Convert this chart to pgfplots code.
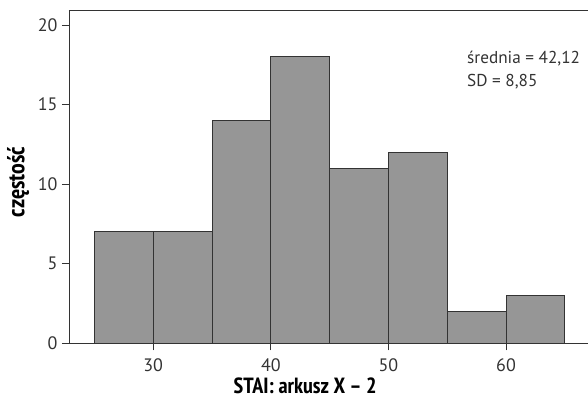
\documentclass[border=0pt]{standalone}
\usepackage{pgfplots}
\pgfplotsset{compat=1.18}
\usepackage{fontspec}
\setmainfont{PT Sans}
\newfontfamily\narrowbold{PT Sans Narrow}[BoldFont={* Bold}]
\definecolor{barfill}{RGB}{150,150,150}
\definecolor{dk}{RGB}{51,51,51}
\begin{document}
\begin{tikzpicture}
\useasboundingbox (-69pt,-56.7pt) rectangle (519pt,343.3pt);
\begin{axis}[
  scale only axis,
  width=519pt, height=332.6pt,
  xmin=22.84, xmax=66.97,
  ymin=0, ymax=20.9,
  axis x line*=box,
  axis y line*=left,
  axis line style={dk, line width=0.9pt},
  xtick={30,40,50,60},
  ytick={0,5,10,15,20},
  tick align=outside,
  major tick length=7pt,
  tick style={dk, line width=0.9pt},
  xtick pos=bottom,
  ytick pos=left,
  tick label style={font=\fontsize{18}{20}\selectfont, text=dk},
  /pgf/number format/assume math mode=true,
  xticklabel style={yshift=-5pt},
  yticklabel style={xshift=-1pt},
  xlabel={\narrowbold\bfseries STAI: arkusz X – 2},
  ylabel={\narrowbold\bfseries\fontsize{24}{26}\selectfont częstość},
  label style={font=\fontsize{22}{24}\selectfont, text=black},
  x label style={at={(axis description cs:0.455,0)}, anchor=base, yshift=-50pt},
  y label style={at={(axis description cs:-0.098,0.485)}, anchor=center},
  clip=false,
]
\addplot[ybar interval, fill=barfill, draw=dk, line width=0.9pt] coordinates {
(25,7) (30,7) (35,14) (40,18) (45,11) (50,12) (55,2) (60,3) (65,3)
};
\node[anchor=base west, align=left, font=\fontsize{17.2}{23}\selectfont, text=dk] at (axis cs:56.4,16.15) {średnia = 42,12\\SD = 8,85};
\end{axis}
\end{tikzpicture}
\end{document}
